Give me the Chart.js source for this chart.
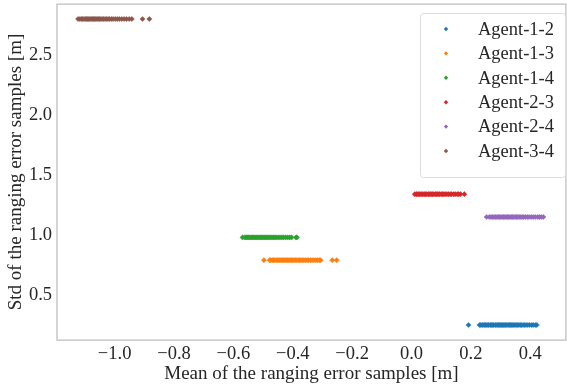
<!DOCTYPE html>
<html>
<head>
<meta charset="utf-8">
<script src="https://cdn.jsdelivr.net/npm/chart.js@4/dist/chart.umd.min.js"></script>
<style>
  html, body { margin: 0; padding: 0; background: #fff; overflow: hidden; }
  #wrap { position: relative; width: 569px; height: 387px; }
</style>
</head>
<body>
<div id="wrap"><canvas id="c"></canvas></div>
<script>
// Pair labels and their colours
const pairLabels = ['Agent-1-2', 'Agent-1-3', 'Agent-1-4', 'Agent-2-3', 'Agent-2-4', 'Agent-3-4'];
const pairColors = ['#1f77b4', '#ff7f0e', '#2ca02c', '#d62728', '#9467bd', '#8c564b'];

// Std of the ranging error samples [m], one per pair
const pairStd = [0.25, 0.79, 0.98, 1.34, 1.15, 2.80];

// Mean of the ranging error samples [m], per pair
const mean12 = [0.192, 0.229, 0.233, 0.238, 0.241, 0.246, 0.249, 0.254, 0.258, 0.261, 0.266, 0.27, 0.273, 0.277, 0.282, 0.285, 0.289, 0.293, 0.296, 0.3, 0.304, 0.307, 0.311, 0.315, 0.318, 0.322, 0.326, 0.33, 0.333, 0.337, 0.341, 0.345, 0.349, 0.353, 0.358, 0.362, 0.367, 0.371, 0.376, 0.381, 0.386, 0.392, 0.398, 0.405, 0.41, 0.417, 0.422];
const mean13 = [-0.497, -0.478, -0.474, -0.469, -0.465, -0.461, -0.456, -0.452, -0.447, -0.443, -0.439, -0.434, -0.43, -0.426, -0.421, -0.417, -0.413, -0.409, -0.404, -0.4, -0.396, -0.391, -0.387, -0.382, -0.378, -0.373, -0.368, -0.363, -0.358, -0.352, -0.347, -0.341, -0.335, -0.329, -0.322, -0.316, -0.31, -0.306, -0.267, -0.252];
const mean14 = [-0.569, -0.561, -0.557, -0.553, -0.548, -0.544, -0.54, -0.536, -0.531, -0.527, -0.523, -0.519, -0.514, -0.51, -0.506, -0.502, -0.497, -0.493, -0.489, -0.484, -0.48, -0.475, -0.47, -0.465, -0.46, -0.455, -0.449, -0.443, -0.437, -0.431, -0.424, -0.417, -0.41, -0.404, -0.389, -0.386];
const mean23 = [0.011, 0.016, 0.019, 0.024, 0.027, 0.032, 0.035, 0.039, 0.044, 0.047, 0.051, 0.056, 0.059, 0.063, 0.068, 0.071, 0.075, 0.08, 0.083, 0.087, 0.092, 0.095, 0.1, 0.104, 0.109, 0.113, 0.119, 0.124, 0.13, 0.135, 0.142, 0.147, 0.154, 0.159, 0.165, 0.178];
const mean24 = [0.253, 0.262, 0.268, 0.273, 0.278, 0.283, 0.288, 0.292, 0.297, 0.301, 0.306, 0.31, 0.314, 0.319, 0.323, 0.327, 0.332, 0.336, 0.34, 0.345, 0.349, 0.354, 0.358, 0.363, 0.368, 0.373, 0.378, 0.384, 0.39, 0.396, 0.403, 0.41, 0.417, 0.425, 0.431, 0.437, 0.444];
const mean34 = [-1.123, -1.117, -1.112, -1.108, -1.103, -1.099, -1.095, -1.091, -1.087, -1.083, -1.079, -1.075, -1.071, -1.067, -1.063, -1.059, -1.055, -1.051, -1.046, -1.042, -1.037, -1.032, -1.027, -1.022, -1.017, -1.011, -1.005, -0.998, -0.991, -0.984, -0.976, -0.968, -0.96, -0.951, -0.942, -0.906, -0.883];
const pairMeans = [mean12, mean13, mean14, mean23, mean24, mean34];

// Axis ticks
const xTicks = [-1.0, -0.8, -0.6, -0.4, -0.2, 0.0, 0.2, 0.4];
const yTicks = [0.5, 1.0, 1.5, 2.0, 2.5];

const FONT = "'Liberation Serif', 'Times New Roman', serif";
const TEXT = '#262626';
const SPINE = '#bdbdbd';

const datasets = pairLabels.map((label, i) => ({
  label,
  data: pairMeans[i].map(m => ({ x: m, y: pairStd[i] })),
  backgroundColor: pairColors[i],
  borderColor: pairColors[i],
  borderWidth: 0.5,
  pointStyle: 'rectRot',
  pointRadius: 2.6,
  pointHoverRadius: 2.6
}));

const fmt = v => {
  const s = Math.abs(v).toFixed(1);
  return (v < -1e-9 ? '\u2212' : '') + s;
};

// Frame around the plotting area
const framePlugin = {
  id: 'frame',
  beforeDatasetsDraw(chart) {
    const { ctx, chartArea: a } = chart;
    ctx.save();
    ctx.strokeStyle = SPINE;
    ctx.lineWidth = 1.25;
    ctx.beginPath();
    ctx.rect(a.left, a.top, a.right - a.left, a.bottom - a.top);
    ctx.stroke();
    ctx.restore();
  }
};

// Legend drawn inside the plot, upper right
const insideLegend = {
  id: 'insideLegend',
  afterDraw(chart) {
    const { ctx } = chart;
    const box = { x: 420.5, y: 13.5, w: 145, h: 164 };
    ctx.save();
    ctx.beginPath();
    ctx.roundRect(box.x, box.y, box.w, box.h, 3);
    ctx.fillStyle = 'rgba(255,255,255,0.8)';
    ctx.fill();
    ctx.strokeStyle = '#dcdcdc';
    ctx.lineWidth = 1;
    ctx.stroke();
    ctx.font = '18.5px ' + FONT;
    ctx.textBaseline = 'middle';
    ctx.textAlign = 'left';
    chart.data.datasets.forEach((ds, i) => {
      const cy = 29 + i * 24.4;
      const mx = 446, r = 2.2;
      ctx.beginPath();
      ctx.moveTo(mx - r, cy);
      ctx.lineTo(mx, cy - r);
      ctx.lineTo(mx + r, cy);
      ctx.lineTo(mx, cy + r);
      ctx.closePath();
      ctx.fillStyle = ds.backgroundColor;
      ctx.fill();
      ctx.fillStyle = TEXT;
      ctx.fillText(ds.label, 478, cy + 1);
    });
    ctx.restore();
  }
};

new Chart(document.getElementById('c'), {
  type: 'scatter',
  data: { datasets },
  plugins: [framePlugin, insideLegend],
  options: {
    responsive: true,
    maintainAspectRatio: false,
    animation: false,
    events: [],
    layout: { padding: { top: 4, right: 0, bottom: 0, left: 0 } },
    plugins: {
      legend: { display: false },
      tooltip: { enabled: false }
    },
    scales: {
      x: {
        type: 'linear',
        min: -1.194,
        max: 0.52,
        afterBuildTicks: s => { s.ticks = xTicks.map(v => ({ value: v })); },
        afterFit: s => { s.height = 47; s.paddingLeft = 0; s.paddingRight = 0; },
        grid: { display: false, drawTicks: false },
        border: { display: false },
        ticks: {
          callback: v => fmt(v),
          font: { family: FONT, size: 18.5 },
          color: TEXT,
          padding: 3,
          maxRotation: 0
        },
        title: {
          display: true,
          text: 'Mean of the ranging error samples [m]',
          font: { family: FONT, size: 19 },
          color: TEXT,
          padding: { top: 0, bottom: 2 }
        }
      },
      y: {
        type: 'linear',
        min: 0.125,
        max: 2.925,
        afterBuildTicks: s => { s.ticks = yTicks.map(v => ({ value: v })); },
        afterFit: s => { s.width = 57; s.paddingTop = 0; s.paddingBottom = 0; },
        grid: { display: false, drawTicks: false },
        border: { display: false },
        ticks: {
          callback: v => fmt(v),
          font: { family: FONT, size: 18.5 },
          color: TEXT,
          padding: 5
        },
        title: {
          display: true,
          text: 'Std of the ranging error samples [m]',
          font: { family: FONT, size: 19 },
          color: TEXT,
          padding: { top: 5, bottom: 0 }
        }
      }
    }
  }
});
</script>
</body>
</html>
